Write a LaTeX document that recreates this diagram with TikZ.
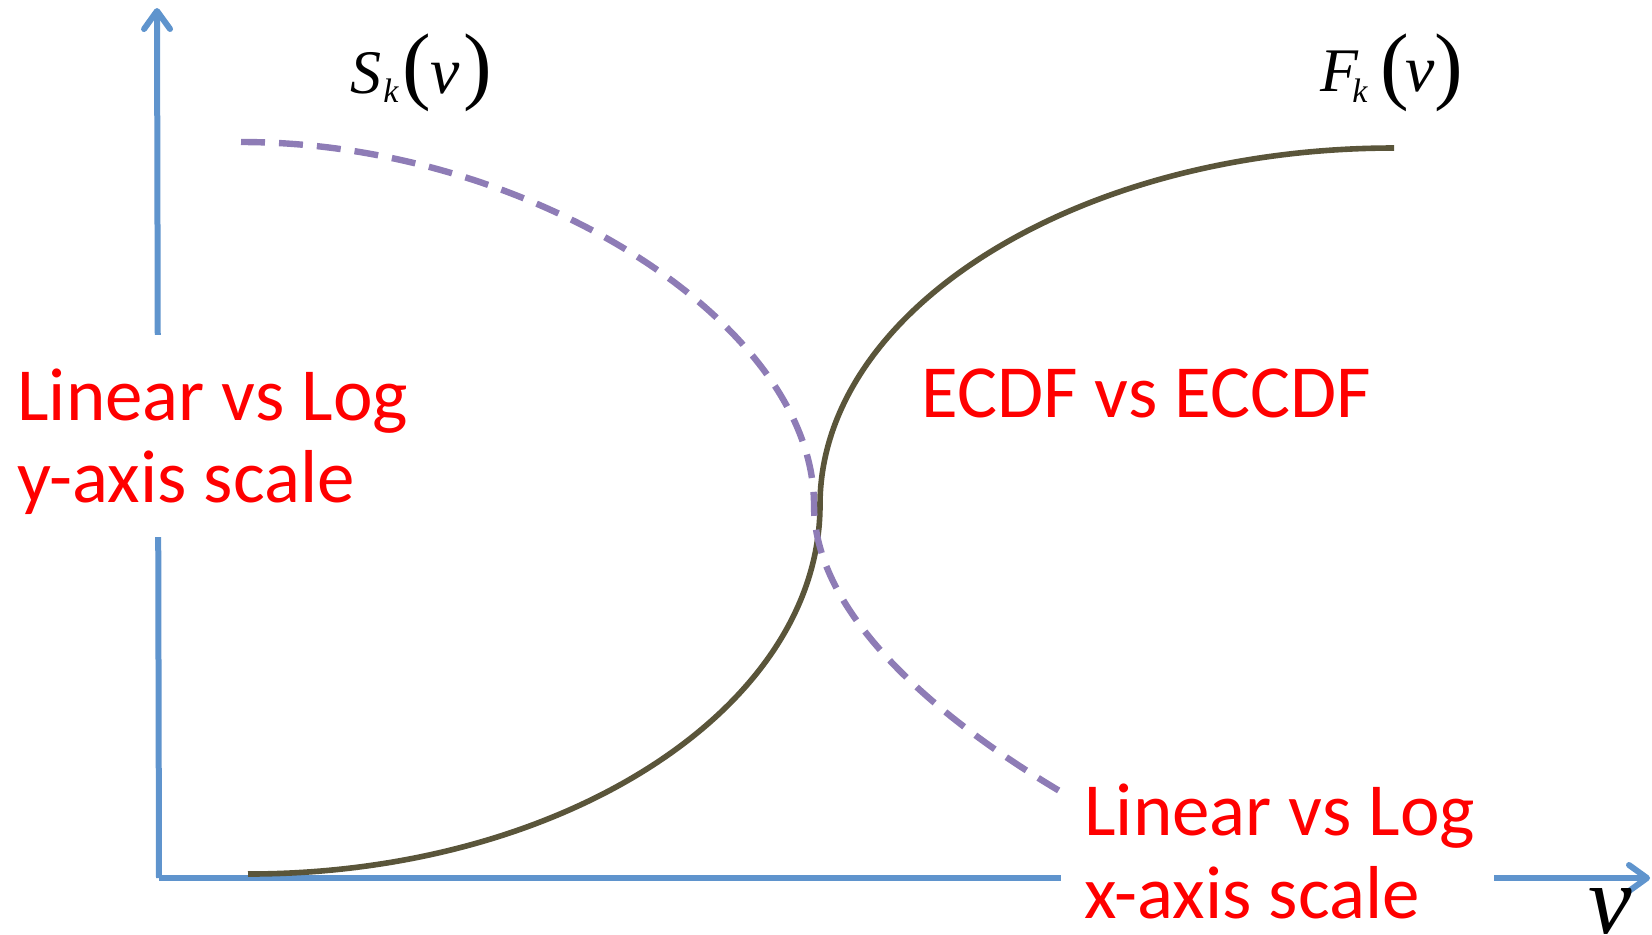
\documentclass[tikz,border=0pt]{standalone}
\usepackage{fontspec}
\setmainfont{Carlito}
\newfontfamily\tmr{Liberation Serif}
\usetikzlibrary{arrows.meta}
\definecolor{axisblue}{RGB}{95,148,205}
\definecolor{curveolive}{RGB}{90,85,58}
\definecolor{dashpurple}{RGB}{142,124,182}
\definecolor{labelred}{RGB}{255,0,0}
\begin{document}
\begin{tikzpicture}[x=0.5pt,y=-0.5pt,
  axisline/.style={draw=axisblue, line width=3pt,
    -{Straight Barb[length=9pt,width=13pt,round]}},
  cdfline/.style={draw=curveolive, line width=2.8pt},
  ccdfline/.style={draw=dashpurple, line width=3.2pt, dash pattern=on 12pt off 7pt},
  redlabel/.style={text=labelred, inner sep=0pt, anchor=base west,
    font=\fontsize{37.5}{41.5}\selectfont},
  mathbig/.style={inner sep=0pt, anchor=base west, font=\tmr\itshape\fontsize{31}{31}\selectfont},
  mathsub/.style={inner sep=0pt, anchor=base west, font=\tmr\itshape\fontsize{17}{17}\selectfont},
  mathv/.style={inner sep=0pt, anchor=base west, font=\tmr\itshape\fontsize{33}{33}\selectfont},
  mathparen/.style={inner sep=0pt, anchor=base west, font=\tmr\fontsize{43}{43}\selectfont},
  mask/.style={fill=white, draw=none}
]
\useasboundingbox (0,0) rectangle (1652,934);

% axes
\coordinate (O) at (159,878);
\coordinate (ytip) at (157,8);
\coordinate (xtip) at (1650,878);
\draw[axisline] (O) -- (ytip);
\draw[axisline] (O) -- (xtip);

% ECDF curve
\coordinate (f0) at (248,874);
\coordinate (fm) at (820,505);
\coordinate (f1) at (1394,148);
\draw[cdfline] (f0) .. controls (563,874) and (820,708) .. (fm)
                    .. controls (820,309) and (1078,148) .. (f1);

% ECCDF curve
\coordinate (s0) at (241,142);
\coordinate (sm) at (814,505);
\coordinate (s1) at (1075,800);
\draw[ccdfline] (s0) .. controls (528,142) and (814,323) .. (sm)
                     .. controls (814,625) and (962,735) .. (s1);

% text boxes (white background)
\fill[mask] (-8,335) rectangle (430,537);
\fill[mask] (1061,750) rectangle (1494,960);

\node[redlabel] (ylab1) at (17,420) {Linear vs Log};
\node[redlabel] (ylab2) at (17,502) {y-axis scale};
\node[redlabel] (xlab1) at (1084,835) {Linear vs Log};
\node[redlabel] (xlab2) at (1084,918) {x-axis scale};
\node[redlabel] (mid) at (921,417) {ECDF vs ECCDF};

% S_k(v)
\node[mathbig] (sS) at (350,93) {S};
\node[mathsub] (sk) at (383,102) {k};
\node[mathparen] (sl) at (402,93) {(};
\node[mathv] (sv) at (430,93) {v};
\node[mathparen] (sr) at (463,93) {)};

% F_k(v)
\node[mathbig] (fF) at (1320,91) {F};
\node[mathsub] (fk) at (1352,102) {k};
\node[mathparen] (fl) at (1380,93) {(};
\node[mathv] (fv) at (1405,91) {v};
\node[mathparen] (fr) at (1434,93) {)};

% axis label v
\node[inner sep=0pt, anchor=base west, font=\tmr\itshape\fontsize{49}{49}\selectfont] (vx) at (1588,933) {v};
\end{tikzpicture}
\end{document}
